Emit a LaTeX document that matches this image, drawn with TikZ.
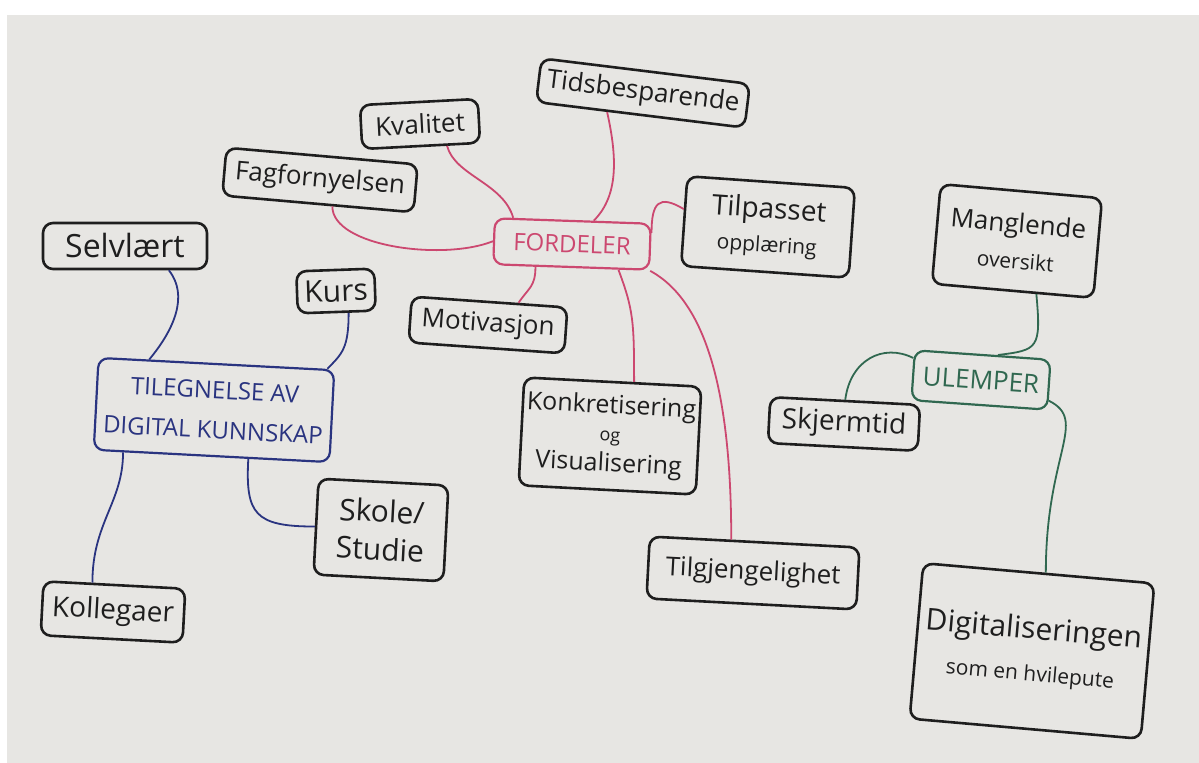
\documentclass[tikz,border=0pt]{standalone}
\usepackage{fontspec}
\setmainfont{Open Sans}
\definecolor{paper}{RGB}{231,230,227}
\definecolor{ink}{RGB}{30,30,30}
\definecolor{rosa}{RGB}{204,72,112}
\definecolor{blekk}{RGB}{42,52,128}
\definecolor{gronn}{RGB}{48,104,80}
\newcommand{\lesser}{\fontsize{10.5}{12}\selectfont}

\begin{document}
\begin{tikzpicture}[
    x=0.5pt, y=-0.5pt,
    box/.style={draw=ink, line width=1.3pt, rounded corners=5pt, align=center,
                inner sep=2pt, text=ink, font=\fontsize{13}{15}\selectfont},
    hub/.style={box, line width=1.1pt, font=\fontsize{12}{14}\selectfont},
    pinkline/.style={draw=rosa, line width=0.9pt},
    blueline/.style={draw=blekk, line width=0.9pt},
    greenline/.style={draw=gronn, line width=0.9pt}
]
\useasboundingbox (0,0) rectangle (1199,763);
\fill[paper] (7,15) rectangle (1199,763);

% FORDELER
\node (ford) [hub, draw=rosa, text=rosa, minimum width=78pt, minimum height=23pt, rotate=-2] at (572,244) {FORDELER};
\node (tids) [box, minimum width=105pt, minimum height=22pt, rotate=-7] at (643,93) {Tidsbesparende};
\node (kval) [box, minimum width=59pt, minimum height=22pt, rotate=3] at (420,124) {Kvalitet};
\node (fag) [box, minimum width=96pt, minimum height=24pt, rotate=-5] at (320,180) {Fagfornyelsen};
\node (tilp) [box, minimum width=84pt, minimum height=45pt, rotate=-4, font=\fontsize{14}{16}\selectfont] at (768,227) {Tilpasset\\[1pt]{\lesser opplæring}};
\node (motiv) [box, minimum width=78pt, minimum height=23pt, rotate=-4] at (488,325) {Motivasjon};
\node (konk) [box, minimum width=85pt, minimum height=54pt, rotate=-3, font=\fontsize{12.5}{14}\selectfont] at (610,436) {Konkretisering\\[0pt]{\fontsize{9}{10}\selectfont og}\\[1pt]Visualisering};
\node (tilgj) [box, minimum width=105pt, minimum height=31pt, rotate=-3] at (753,573) {Tilgjengelighet};

% TILEGNELSE
\node (tileg) [hub, draw=blekk, text=blekk, minimum width=118pt, minimum height=46pt, rotate=-3, font=\fontsize{12}{20}\selectfont] at (214,410) {TILEGNELSE AV\\DIGITAL KUNNSKAP};
\node (selv) [box, minimum width=82pt, minimum height=23pt, font=\fontsize{16}{18}\selectfont] at (125,246) {Selvlært};
\node (kurs) [box, minimum width=39pt, minimum height=21pt, rotate=2, font=\fontsize{15}{17}\selectfont] at (336,291) {Kurs};
\node (skole) [box, minimum width=65pt, minimum height=48pt, rotate=-3, font=\fontsize{15}{19}\selectfont] at (381,530) {Skole/\\Studie};
\node (koll) [box, minimum width=71pt, minimum height=27pt, rotate=-3, font=\fontsize{14}{16}\selectfont] at (113,612) {Kollegaer};

% ULEMPER
\node (ulemp) [hub, draw=gronn, text=gronn, minimum width=68pt, minimum height=25pt, rotate=-4, font=\fontsize{13}{15}\selectfont] at (981,380) {ULEMPER};
\node (mangl) [box, minimum width=81pt, minimum height=50pt, rotate=-5] at (1017,241) {Manglende\\[3pt]{\lesser oversikt}};
\node (skjerm) [box, minimum width=75pt, minimum height=23pt, rotate=-3, font=\fontsize{14}{16}\selectfont] at (844,424) {Skjermtid};
\node (digit) [box, minimum width=116pt, minimum height=78pt, rotate=-5, font=\fontsize{15}{19}\selectfont] at (1032,651) {Digitaliseringen\\[2pt]{\lesser som en hvilepute}};

\draw [pinkline] (ford.west) .. controls +(-50,20) and +(0,40) .. (fag.-60);
\draw [pinkline] (ford.158) .. controls +(-10,-35) and +(8,30) .. (kval.-42);
\draw [pinkline] (ford.49) .. controls +(25,-25) and +(10,45) .. (tids.-145);
\draw [pinkline] (ford.10) .. controls +(0,-30) and +(-25,-15) .. (tilp.172);
\draw [pinkline] (ford.-146) .. controls +(0,20) and +(10,-15) .. (motiv.40);
\draw [pinkline] (ford.-27) .. controls +(15,40) and +(0,-60) .. (konk.69);
\draw [pinkline] (ford.south east) .. controls +(55,30) and +(0,-150) .. (tilgj.126);

\draw [blueline] (tileg.145) .. controls +(25,-30) and +(20,25) .. (selv.-29);
\draw [blueline] (tileg.23) .. controls +(15,-15) and +(0,35) .. (kurs.-62);
\draw [blueline] (tileg.-152) .. controls +(0,50) and +(0,-60) .. (koll.128);
\draw [blueline] (tileg.-52) .. controls +(-3,55) and +(-60,0) .. (skole.west);

\draw [greenline] (ulemp.60) .. controls +(40,-5) and +(5,55) .. (mangl.-65);
\draw [greenline] (ulemp.166) .. controls +(-30,-15) and +(5,-40) .. (skjerm.north);
\draw [greenline] (ulemp.-13) .. controls +(40,20) and +(0,-120) .. (digit.85);
\end{tikzpicture}
\end{document}
